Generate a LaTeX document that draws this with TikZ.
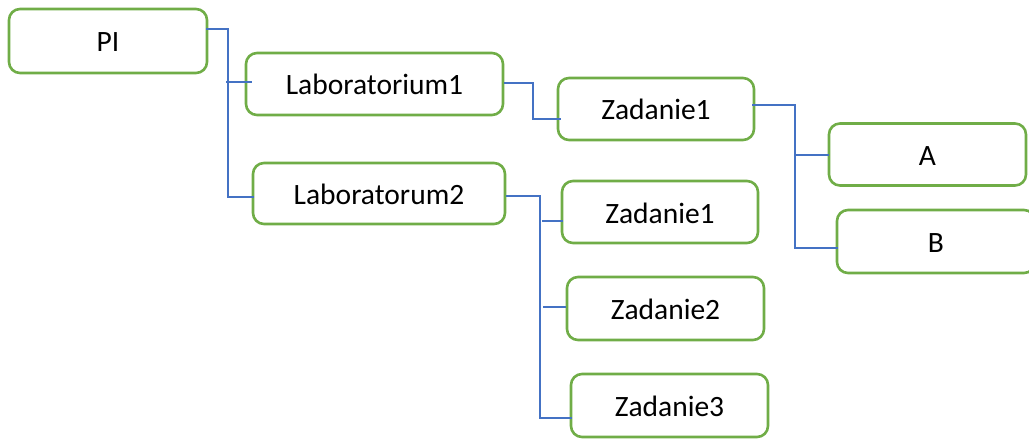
\documentclass[tikz,border=0pt]{standalone}
\usepackage{fontspec}
\setmainfont{Carlito}
\definecolor{boxgreen}{HTML}{70AD47}
\definecolor{lineblue}{HTML}{4472C4}
\begin{document}
\begin{tikzpicture}[x=1pt,y=-1pt,
  box/.style={draw=boxgreen,line width=2.6pt,rounded corners=11pt,fill=white,
    inner sep=0pt,font=\fontsize{29.5}{35}\selectfont,text height=22pt,text depth=0pt},
  conn/.style={draw=lineblue,line width=1.3pt}]
\useasboundingbox (0,0) rectangle (1029,441);
\node[box,minimum width=198pt,minimum height=64pt] (PI) at (108,41) {PI};
\node[box,minimum width=257pt,minimum height=62pt] (Lab1) at (374.5,84) {Laboratorium1};
\node[box,minimum width=252pt,minimum height=61pt] (Lab2) at (379,193.5) {Laboratorum2};
\node[box,minimum width=196pt,minimum height=62pt] (Z1a) at (656,109) {Zadanie1};
\node[box,minimum width=197pt,minimum height=62pt] (A) at (927.5,154.5) {A};
\node[box,minimum width=198pt,minimum height=63pt] (B) at (936,241.5) {B};
\node[box,minimum width=196pt,minimum height=62pt] (Z1b) at (660,212) {Zadanie1};
\node[box,minimum width=197pt,minimum height=63pt] (Z2) at (665.5,308.5) {Zadanie2};
\node[box,minimum width=197pt,minimum height=63pt] (Z3) at (669.5,405.5) {Zadanie3};
% coordinates of connector ends
\coordinate (p0) at (206,29);
\coordinate (p1) at (228,197);
\coordinate (p1t) at (226,82);
\coordinate (l1e) at (252,82);
\coordinate (l2e) at (254,197);
\coordinate (q0) at (504,83);
\coordinate (q1) at (533,119);
\coordinate (z1e) at (561,119);
\coordinate (r0) at (752,105);
\coordinate (r1) at (795,248);
\coordinate (r1t) at (795,155);
\coordinate (ae) at (829,155);
\coordinate (be) at (838,248);
\coordinate (s0) at (506,196);
\coordinate (s1) at (540,418);
\coordinate (t1a) at (542,221);
\coordinate (t1b) at (563,221);
\coordinate (t2a) at (543,307);
\coordinate (t2b) at (566,307);
\coordinate (z3e) at (572,418);
\draw[conn] (p0) -| (p1) -- (l2e);
\draw[conn] (p1t) -- (l1e);
\draw[conn] (q0) -| (q1) -- (z1e);
\draw[conn] (r0) -| (r1) -- (be);
\draw[conn] (r1t) -- (ae);
\draw[conn] (s0) -| (s1) -- (z3e);
\draw[conn] (t1a) -- (t1b);
\draw[conn] (t2a) -- (t2b);
\end{tikzpicture}
\end{document}
